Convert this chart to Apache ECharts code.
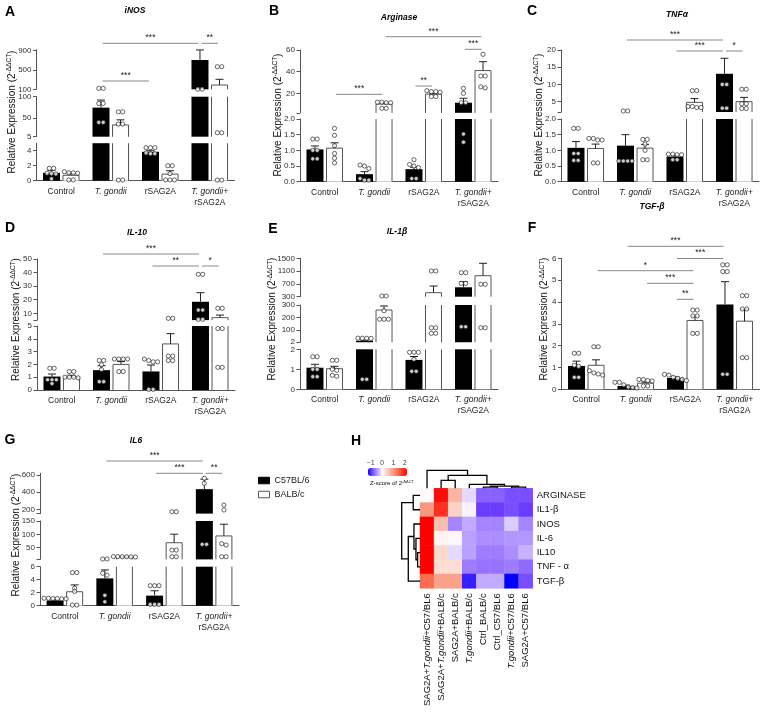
<!DOCTYPE html>
<html><head><meta charset="utf-8">
<script src="https://cdn.jsdelivr.net/npm/echarts@6/dist/echarts.min.js"></script>
<style>html,body{margin:0;padding:0;background:#fff}#c{width:765px;height:713px}</style>
</head><body><div id="c"></div>
<script>
// ---------------- DATA ----------------
const groups = ['Control', 'T. gondii', 'rSAG2A', 'T. gondii+\nrSAG2A'];
const strains = ['C57BL/6', 'BALB/c'];

// A  iNOS
const inosC57 = [1.05, 74, 3.85, 707];
const inosC57Sem = [0.35, 18, 0.15, 208];
const inosBALB = [0.72, 33, 0.88, 189];
const inosBALBSem = [0.25, 12, 0.45, 118];
const inosC57Pts = [[1.65, 1.65, 1.0, 0.95, 0.9, 0.25], [120, 120, 84, 84, 39, 39], [4.4, 4.4, 4.4, 3.7, 3.6, 3.6], [102, 102]];
const inosBALBPts = [[1.2, 1.05, 1.05, 1.0, 0.1, 0.1], [64, 64, 35, 35, 0.08, 0.08], [2.0, 2.0, 0.95, 0.1, 0.1, 0.1], [568, 568, 14.5, 14.5, 0.08, 0.08]];

// B  Arginase
const argC57 = [1.03, 0.24, 0.40, 11.3];
const argC57Sem = [0.11, 0.08, 0.06, 4.1];
const argBALB = [1.07, 10.1, 19.2, 41];
const argBALBSem = [0.17, 0.9, 0.8, 8.2];
const argC57Pts = [[1.36, 1.36, 1.0, 1.0, 0.73, 0.73], [0.53, 0.5, 0.42, 0.1, 0.05, 0.05], [0.7, 0.55, 0.5, 0.45, 0.1, 0.1], [24.6, 20, 11.3, 11.3, 1.52, 1.26]];
const argBALBPts = [[1.7, 1.48, 1.15, 0.9, 0.75, 0.6], [11.8, 11.3, 11.3, 11.8, 6.1, 6.1], [22.4, 21.5, 21.5, 21, 17, 17], [56, 36, 36, 26, 25]];

// C  TNF-alpha
const tnfC57 = [1.08, 1.15, 0.80, 13.1];
const tnfC57Sem = [0.2, 0.35, 0.03, 4.5];
const tnfBALB = [1.06, 1.07, 4.8, 5.0];
const tnfBALBSem = [0.14, 0.12, 1.1, 1.25];
const tnfC57Pts = [[1.7, 1.7, 0.9, 0.9, 0.68, 0.68], [2.3, 2.3, 0.66, 0.66, 0.66, 0.66], [0.88, 0.86, 0.86, 0.88, 0.7, 0.7], [10, 10, 3.1, 3.1]];
const tnfBALBPts = [[1.38, 1.33, 1.33, 1.38, 0.6, 0.6], [1.35, 1.35, 1.2, 1.0, 0.7, 0.7], [8.2, 8.2, 3.6, 3.3, 3.3, 3.6], [8.6, 8.6, 4.4, 4.4, 3.0, 3.0]];

// D  IL-10
const il10C57 = [1.05, 1.55, 1.45, 18.5];
const il10C57Sem = [0.2, 0.35, 0.5, 6.7];
const il10BALB = [1.0, 2.0, 3.6, 6.8];
const il10BALBSem = [0.15, 0.22, 0.8, 1.9];
const il10C57Pts = [[1.7, 1.7, 0.8, 0.8, 0.8, 0.5], [2.31, 2.31, 1.97, 1.6, 0.65, 0.65], [2.42, 2.3, 2.2, 2.2, 0.05, 0.05], [38.7, 38.7, 12.4, 12.4, 5.6, 5.6]];
const il10BALBPts = [[1.44, 1.44, 1.0, 1.0, 1.0, 0.95], [2.42, 2.42, 2.42, 2.42, 1.44, 1.44], [6.3, 6.3, 2.65, 2.65, 2.3, 2.3], [13.7, 13.7, 4.8, 4.8, 1.77, 1.77]];

// E  IL-1beta
const il1C57 = [1.08, 14, 1.47, 594];
const il1C57Sem = [0.17, 4, 0.17, 176];
const il1BALB = [1.03, 260, 425, 956];
const il1BALBSem = [0.12, 32, 209, 388];
const il1C57Pts = [[1.63, 1.63, 1.0, 1.0, 0.63, 0.63], [35, 34, 34, 33, 0.5, 0.5], [1.85, 1.85, 1.85, 1.5, 0.9, 0.9], [1050, 1050, 718, 718, 126, 126]];
const il1BALBPts = [[1.45, 1.45, 1.0, 0.95, 0.7, 0.65], [322, 322, 254, 186, 186, 186], [1103, 1103, 118, 118, 73.5, 73.5], [688, 688, 118, 118]];

// F  TGF-beta
const tgfC57 = [1.07, 0.15, 0.52, 3.88];
const tgfC57Sem = [0.22, 0.04, 0.05, 1.05];
const tgfBALB = [1.10, 0.28, 3.15, 3.12];
const tgfBALBSem = [0.25, 0.05, 0.2, 0.55];
const tgfC57Pts = [[1.65, 1.65, 1.1, 1.05, 0.55, 0.55], [0.32, 0.32, 0.2, 0.1, 0.08, 0.06], [0.68, 0.65, 0.55, 0.5, 0.45, 0.4], [5.7, 5.7, 5.39, 5.39, 0.69, 0.69]];
const tgfBALBPts = [[1.95, 1.95, 0.85, 0.75, 0.7, 0.65], [0.45, 0.45, 0.4, 0.38, 0.15, 0.15], [3.63, 3.63, 3.36, 3.36, 2.56, 2.56], [4.29, 4.29, 3.68, 3.68, 1.45, 1.45]];

// G  IL6
const il6C57 = [0.8, 4.2, 1.55, 435];
const il6C57Sem = [0.06, 1.3, 0.75, 116];
const il6BALB = [2.15, 15, 68.5, 94];
const il6BALBSem = [1.05, 0.6, 32, 44];
const il6C57Pts = [[1.15, 1.15, 1.1, 1.1, 1.05, 1.05], [7.5, 7.5, 5.0, 4.7, 1.6, 0.6], [3.08, 3.08, 3.08, 0.2, 0.2, 0.2], [561, 503, 62.5, 62.5]];
const il6BALBPts = [[5.1, 5.1, 2.7, 2.2, 0.1, 0.1], [16.5, 16.5, 16, 16, 15.5, 15], [172, 172, 41, 41, 16, 16], [250, 192, 65, 60, 16, 16]];

// H  heatmap (z-score)
const hmCols = ['SAG2A+T.gondii+C57/BL6', 'SAG2A+T.gondii+BALB/c', 'SAG2A+BALB/c', 'T.gondii+BALB/c', 'Ctrl_BALB/c', 'Ctrl_C57/BL6', 'T.gondii+C57/BL6', 'SAG2A+C57/BL6'];
const hmRows = ['ARGINASE', 'IL1-β', 'INOS', 'IL-6', 'IL10', 'TNF - α', 'TGF-β'];
const zArginase = [0.05, 2.1, 0.7, -0.15, -0.75, -0.75, -0.85, -0.85];
const zIL1b = [1.0, 1.85, 0.4, -0.05, -0.95, -0.95, -0.85, -0.95];
const zINOS = [2.2, 0.6, -0.55, -0.35, -0.55, -0.55, -0.2, -0.55];
const zIL6 = [2.2, 0.1, -0.03, -0.4, -0.5, -0.5, -0.45, -0.45];
const zIL10 = [2.2, 0.35, -0.15, -0.4, -0.6, -0.6, -0.5, -0.3];
const zTNF = [2.2, 0.3, 0.3, -0.6, -0.65, -0.65, -0.6, -0.7];
const zTGF = [1.4, 0.9, 0.9, -1.1, -0.35, -0.35, -1.25, -0.85];
// dendrograms (merge heights, relative)
const colTree = {h: 1.0, c: [0, {h: 0.72, c: [{h: 0.44, c: [1, 2]}, {h: 0.22, c: [3, {h: 0.12, c: [{h: 0.07, c: [4, 5]}, {h: 0.07, c: [6, 7]}]}]}]}]};
const rowTree = {h: 1.0, c: [{h: 0.37, c: [0, 1]}, {h: 0.64, c: [{h: 0.33, c: [2, {h: 0.22, c: [3, {h: 0.13, c: [4, 5]}]}]}, 6]}]};

// ---------------- LAYOUT / STYLE ----------------
const FONT = '"Liberation Sans", Arial, Helvetica, sans-serif';
const BW = 17, GAPR = 0.15, HALF = BW * (1 + GAPR) / 2;
const f1 = v => v.toFixed(1);

const panels = [
  {letter: 'A', title: 'iNOS', left: 36.5, width: 198, c57: inosC57, c57e: inosC57Sem, balb: inosBALB, balbe: inosBALBSem, c57p: inosC57Pts, balbp: inosBALBPts,
   segs: [{min: 0, max: 5, bottom: 180.7, top: 143.2, ticks: [0, 2, 4]}, {min: 5, max: 100, bottom: 136.7, top: 96.7, ticks: [5, 50, 100]}, {min: 100, max: 920, bottom: 89.3, top: 49.7, ticks: [100, 500, 900]}],
   letterPos: [10, 12.5], titlePos: [135, 11], yTitle: [12, 112],
   sig: [[1, 0, 3, 0, 43.3, '***'], [3, 0, 3, 1, 43.3, '**'], [1, 0, 2, 0, 81, '***']]},
  {letter: 'B', title: 'Arginase', left: 300, width: 198, c57: argC57, c57e: argC57Sem, balb: argBALB, balbe: argBALBSem, c57p: argC57Pts, balbp: argBALBPts,
   segs: [{min: 0, max: 2, bottom: 181.7, top: 119, ticks: [0, 0.5, 1, 1.5, 2], fmt: f1}, {min: 2, max: 60, bottom: 112.8, top: 50, ticks: [20, 40, 60], tickVals: [2, 20, 40, 60]}],
   letterPos: [274, 11], titlePos: [399, 18], yTitle: [278, 115],
   sig: [[0, 1, 1, 1, 94.3, '***'], [1, 1, 3, 1, 36.7, '***'], [2, 0, 2, 1, 86, '**'], [3, 0, 3, 1, 49.3, '***']]},
  {letter: 'C', title: 'TNFα', left: 561, width: 198, c57: tnfC57, c57e: tnfC57Sem, balb: tnfBALB, balbe: tnfBALBSem, c57p: tnfC57Pts, balbp: tnfBALBPts,
   segs: [{min: 0, max: 2, bottom: 181.7, top: 119, ticks: [0, 0.5, 1, 1.5, 2], fmt: f1}, {min: 2, max: 20, bottom: 112, top: 50, ticks: [5, 10, 15, 20], tickVals: [2, 5, 10, 15, 20]}],
   letterPos: [532, 11], titlePos: [677, 15], yTitle: [539, 115],
   sig: [[1, 0, 3, 0, 40, '***'], [2, 0, 3, 0, 51, '***'], [3, 0, 3, 1, 51, '*']]},
  {letter: 'D', title: 'IL-10', left: 37, width: 198, c57: il10C57, c57e: il10C57Sem, balb: il10BALB, balbe: il10BALBSem, c57p: il10C57Pts, balbp: il10BALBPts,
   segs: [{min: 0, max: 5, bottom: 390, top: 326, ticks: [0, 1, 2, 3, 4, 5]}, {min: 5, max: 50, bottom: 320.1, top: 259, ticks: [10, 20, 30, 40, 50], tickVals: [5, 10, 20, 30, 40, 50]}],
   letterPos: [10, 228], titlePos: [137, 233], yTitle: [16, 319.5],
   sig: [[1, 0, 3, 0, 254, '***'], [2, 0, 3, 0, 266, '**'], [3, 0, 3, 1, 266, '*']]},
  {letter: 'E', title: 'IL-1β', left: 300, width: 198, c57: il1C57, c57e: il1C57Sem, balb: il1BALB, balbe: il1BALBSem, c57p: il1C57Pts, balbp: il1BALBPts,
   segs: [{min: 0, max: 2, bottom: 389.3, top: 349.3, ticks: [0, 1, 2]}, {min: 2, max: 300, bottom: 342.25, top: 305, ticks: [2, 100, 200, 300]}, {min: 300, max: 1500, bottom: 296.7, top: 258.3, ticks: [300, 700, 1100, 1500]}],
   letterPos: [273, 229], titlePos: [397, 232], yTitle: [272.5, 319], sig: []},
  {letter: 'F', title: 'TGF-β', left: 561.5, width: 198, c57: tgfC57, c57e: tgfC57Sem, balb: tgfBALB, balbe: tgfBALBSem, c57p: tgfC57Pts, balbp: tgfBALBPts,
   segs: [{min: 0, max: 6, bottom: 389.3, top: 258.3, ticks: [0, 1, 2, 3, 4, 5, 6]}],
   letterPos: [532, 228], titlePos: [652, 207], yTitle: [544.5, 319],
   sig: [[1, 0, 3, 0, 246.3, '***'], [2, 0, 3, 0, 258.5, '***'], [0, 1, 2, 1, 270.7, '*'], [1, 1, 2, 1, 283.3, '***'], [2, 0, 2, 1, 299.3, '**']]},
  {letter: 'G', title: 'IL6', left: 40, width: 199, c57: il6C57, c57e: il6C57Sem, balb: il6BALB, balbe: il6BALBSem, c57p: il6C57Pts, balbp: il6BALBPts,
   segs: [{min: 0, max: 6, bottom: 605.7, top: 566.7, ticks: [0, 2, 4, 6]}, {min: 6, max: 150, bottom: 559.4, top: 521, ticks: [50, 100, 150], tickVals: [6, 50, 100, 150]}, {min: 150, max: 620, bottom: 513.6, top: 473.3, ticks: [200, 400, 600], tickVals: [150, 200, 400, 600]}],
   letterPos: [10, 440], titlePos: [136, 441], yTitle: [16, 535],
   sig: [[1, 0, 3, 0, 461, '***'], [2, 0, 3, 0, 473.3, '***'], [3, 0, 3, 1, 473.3, '**']]}
];

const grid = [], xAxis = [], yAxis = [], series = [], gfx = [];

function segPx(seg, v) { return seg.bottom - (v - seg.min) / (seg.max - seg.min) * (seg.bottom - seg.top); }
function segOf(segs, v) {
  for (let k = 0; k < segs.length; k++) {
    const s = segs[k];
    if ((k === 0 ? v >= s.min : v > s.min) && v <= s.max) return k;
  }
  return -1;
}
function grpFmt(s) { return s.split('\n').map(l => l.indexOf('T. gondii') >= 0 ? '{i|' + l + '}' : '{n|' + l + '}').join('\n'); }
function hmFmt(s) { return s.split('T.gondii').map(p => p ? '{n|' + p + '}' : '').join('{i|T.gondii}'); }

function pointItems(segs, pts, side) {
  const perSeg = segs.map(() => []);
  pts.forEach((arr, g) => {
    const items = arr.map(v => ({v: v, k: segOf(segs, v)})).filter(o => o.k >= 0);
    items.forEach(o => { o.y = segPx(segs[o.k], o.v); });
    items.sort((a, b) => a.y - b.y);
    const clusters = [];
    items.forEach(o => {
      const last = clusters[clusters.length - 1];
      if (last && last[0].k === o.k && Math.abs(o.y - last[last.length - 1].y) < 3.2) last.push(o); else clusters.push([o]);
    });
    clusters.forEach(cl => cl.forEach((o, j) => {
      const dx = (side ? HALF : -HALF) + (j - (cl.length - 1) / 2) * 4.4;
      perSeg[o.k].push({value: [g, o.v], symbolOffset: [dx, 0]});
    }));
  });
  return perSeg;
}

function errRender(seg) {
  return function (params, api) {
    const g = api.value(0), side = api.value(1), mean = api.value(2), sem = api.value(3);
    const p0 = api.coord([g, seg.min]);
    const cx = p0[0] + (side ? HALF : -HALF);
    const yb = p0[1];
    const Y = v => api.coord([g, v])[1];
    const kids = [];
    const st = {stroke: '#555', lineWidth: 1, fill: 'none'};
    if (side === 1 && mean > seg.min) {
      const xl = cx - BW / 2 + 0.5, xr = cx + BW / 2 - 0.5;
      if (mean <= seg.max) {
        const yt = Y(mean);
        kids.push({type: 'polyline', shape: {points: [[xl, yb], [xl, yt], [xr, yt], [xr, yb]]}, style: st});
      } else {
        const yt = Y(seg.max);
        kids.push({type: 'line', shape: {x1: xl, y1: yb, x2: xl, y2: yt}, style: st});
        kids.push({type: 'line', shape: {x1: xr, y1: yb, x2: xr, y2: yt}, style: st});
      }
    }
    const hi = Math.min(mean + sem, seg.max), lo = Math.max(mean, seg.min);
    if (hi > lo) {
      const es = {stroke: '#222', lineWidth: 1};
      kids.push({type: 'line', shape: {x1: cx, y1: Y(lo), x2: cx, y2: Y(hi)}, style: es});
      if (mean + sem <= seg.max) kids.push({type: 'line', shape: {x1: cx - 4, y1: Y(hi), x2: cx + 4, y2: Y(hi)}, style: es});
    }
    return {type: 'group', children: kids};
  };
}

function txt(x, y, text, opt) {
  opt = opt || {};
  return {type: 'text', x: x, y: y, rotation: opt.rot || 0, silent: true, z: 10,
    style: Object.assign({text: text, fontFamily: FONT, fontSize: opt.size || 9, fontWeight: opt.weight || 'normal',
      fontStyle: opt.style || 'normal', fill: opt.color || '#111',
      align: opt.align || 'center', textAlign: opt.align || 'center', verticalAlign: 'middle', textVerticalAlign: 'middle'}, opt.rich ? {rich: opt.rich} : {})};
}

panels.forEach(P => {
  const c57Pts = pointItems(P.segs, P.c57p, 0);
  const balbPts = pointItems(P.segs, P.balbp, 1);
  const errData = [];
  for (let g = 0; g < 4; g++) { errData.push([g, 0, P.c57[g], P.c57e[g]]); errData.push([g, 1, P.balb[g], P.balbe[g]]); }
  P.segs.forEach((seg, k) => {
    const gi = grid.length;
    grid.push({left: P.left, width: P.width, top: seg.top, height: seg.bottom - seg.top, outerBoundsMode: 'none', containLabel: false});
    xAxis.push({type: 'category', gridIndex: gi, data: groups,
      axisLine: {show: k === 0, lineStyle: {color: '#555', width: 1}}, axisTick: {show: false},
      axisLabel: {show: k === 0, interval: 0, margin: 5, formatter: grpFmt, color: '#222',
        rich: {n: {fontFamily: FONT, fontSize: 8.5, lineHeight: 11, color: '#222'}, i: {fontFamily: FONT, fontSize: 8.5, lineHeight: 11, fontStyle: 'italic', color: '#222'}}},
      splitLine: {show: false}});
    yAxis.push({type: 'value', gridIndex: gi, min: seg.min, max: seg.max,
      axisLine: {show: true, lineStyle: {color: '#555', width: 1}},
      axisTick: {show: true, length: 3.5, customValues: seg.tickVals || seg.ticks, lineStyle: {color: '#555'}},
      axisLabel: {customValues: seg.ticks, fontSize: 8, margin: 5, color: '#333', fontFamily: FONT, formatter: seg.fmt || (v => String(v))},
      splitLine: {show: false}});
    series.push({type: 'bar', name: strains[0], xAxisIndex: gi, yAxisIndex: gi, data: P.c57, barWidth: BW, barGap: (GAPR * 100) + '%',
      itemStyle: {color: '#000'}, clip: true, silent: true, z: 2});
    series.push({type: 'bar', name: strains[1], xAxisIndex: gi, yAxisIndex: gi, data: P.balb, barWidth: BW, barGap: (GAPR * 100) + '%',
      itemStyle: {color: '#fff'}, clip: true, silent: true, z: 2});
    series.push({type: 'custom', xAxisIndex: gi, yAxisIndex: gi, data: errData, encode: {x: 0, y: 2}, renderItem: errRender(seg), silent: true, z: 3});
    series.push({type: 'scatter', xAxisIndex: gi, yAxisIndex: gi, data: c57Pts[k].concat(balbPts[k]), symbol: 'circle', symbolSize: 4.2,
      itemStyle: {color: '#fff', borderColor: '#111', borderWidth: 0.8}, clip: true, silent: true, z: 4});
  });
  // text & annotations
  gfx.push(txt(P.letterPos[0], P.letterPos[1], P.letter, {size: 14, weight: 'bold', color: '#000'}));
  gfx.push(txt(P.titlePos[0], P.titlePos[1], P.title, {size: 8.5, weight: 'bold', style: 'italic', color: '#000'}));
  gfx.push(txt(P.yTitle[0], P.yTitle[1], '{a|Relative Expression (2}{s|-ΔΔCT}{a|)}', {rot: Math.PI / 2,
    rich: {a: {fontFamily: FONT, fontSize: 10, color: '#222', lineHeight: 12}, s: {fontFamily: FONT, fontSize: 6.5, color: '#222', verticalAlign: 'top', lineHeight: 12}}}));
  const catW = P.width / 4;
  const bx = (g, side) => P.left + (g + 0.5) * catW + (side ? HALF : -HALF);
  P.sig.forEach(s => {
    const x1 = bx(s[0], s[1]) + 1.5, x2 = bx(s[2], s[3]) - 1.5;
    gfx.push({type: 'line', silent: true, z: 10, shape: {x1: x1, y1: s[4], x2: x2, y2: s[4]}, style: {stroke: '#888', lineWidth: 1}});
    gfx.push(txt((x1 + x2) / 2, s[4] - 5.5, s[5], {size: 8.5, color: '#222'}));
  });
});

// ---------- Heatmap H ----------
const HM = {left: 420, top: 488.3, width: 112.7, height: 100};
const hmGi = grid.length;
grid.push({left: HM.left, top: HM.top, width: HM.width, height: HM.height, outerBoundsMode: 'none', containLabel: false});
xAxis.push({type: 'category', gridIndex: hmGi, data: hmCols, axisLine: {show: false}, axisTick: {show: false}, splitLine: {show: false},
  axisLabel: {interval: 0, rotate: 90, margin: 5, formatter: hmFmt,
    rich: {n: {fontFamily: FONT, fontSize: 9.5, color: '#111'}, i: {fontFamily: FONT, fontSize: 9.5, fontStyle: 'italic', color: '#111'}}}});
yAxis.push({type: 'category', gridIndex: hmGi, data: hmRows, inverse: true, position: 'right', axisLine: {show: false}, axisTick: {show: false}, splitLine: {show: false},
  axisLabel: {interval: 0, margin: 4, fontFamily: FONT, fontSize: 9.5, color: '#111'}});
const zRows = [zArginase, zIL1b, zINOS, zIL6, zIL10, zTNF, zTGF];
const hmData = [];
zRows.forEach((row, r) => row.forEach((z, c) => hmData.push([c, r, z])));
const hmSeriesIndex = series.length;
series.push({type: 'heatmap', xAxisIndex: hmGi, yAxisIndex: hmGi, data: hmData, itemStyle: {borderWidth: 0}, silent: true, emphasis: {disabled: true}, progressive: 0});

// colour ramp (style)
const ZMIN = -1.25, ZMAX = 2.2;
const ramp = [[-1.25, [0, 0, 255]], [-0.95, [106, 60, 255]], [-0.55, [165, 133, 255]], [-0.3, [201, 179, 255]], [0, [255, 255, 255]], [0.4, [252, 210, 198]], [1.0, [248, 152, 127]], [1.5, [247, 98, 70]], [2.2, [255, 0, 0]]];
function rampColor(z) {
  for (let i = 0; i < ramp.length - 1; i++) {
    const a = ramp[i], b = ramp[i + 1];
    if (z <= b[0] || i === ramp.length - 2) {
      const t = Math.max(0, Math.min(1, (z - a[0]) / (b[0] - a[0])));
      const c = a[1].map((v, j) => Math.round(v + (b[1][j] - v) * t));
      return 'rgb(' + c.join(',') + ')';
    }
  }
}
const stops = [];
for (let i = 0; i <= 69; i++) stops.push(rampColor(ZMIN + (ZMAX - ZMIN) * i / 69));

const CB = {left: 368, top: 468, len: 39, thick: 8};
[-1, 0, 1, 2].forEach(v => gfx.push(txt(CB.left + (v - ZMIN) / (ZMAX - ZMIN) * CB.len, 463.5, String(v === -1 ? '−1' : v), {size: 6.5, color: '#333'})));
gfx.push(txt(370, 483.5, '{a|Z-score of 2}{s|-ΔΔCT}', {align: 'left', rich: {a: {fontFamily: FONT, fontSize: 6, color: '#333', lineHeight: 8}, s: {fontFamily: FONT, fontSize: 4, color: '#333', verticalAlign: 'top', lineHeight: 8}}}));
gfx.push(txt(356, 441, 'H', {size: 14, weight: 'bold', color: '#000'}));

// dendrograms
function dendro(tree, leafPos, toXY) {
  const out = [];
  (function walk(node) {
    if (typeof node === 'number') return {pos: leafPos(node), h: 0};
    const a = walk(node.c[0]), b = walk(node.c[1]);
    out.push([toXY(a.pos, a.h), toXY(a.pos, node.h), toXY(b.pos, node.h), toXY(b.pos, b.h)]);
    return {pos: (a.pos + b.pos) / 2, h: node.h};
  })(tree);
  return out;
}
const cw = HM.width / hmCols.length, rh = HM.height / hmRows.length;
dendro(colTree, i => HM.left + (i + 0.5) * cw, (p, h) => [p, HM.top - h * 18]).forEach(pts =>
  gfx.push({type: 'polyline', silent: true, z: 10, shape: {points: pts}, style: {stroke: '#000', lineWidth: 1.3, fill: 'none'}}));
dendro(rowTree, i => HM.top + (i + 0.5) * rh, (p, h) => [HM.left - h * 18.3, p]).forEach(pts =>
  gfx.push({type: 'polyline', silent: true, z: 10, shape: {points: pts}, style: {stroke: '#000', lineWidth: 1.3, fill: 'none'}}));

const option = {
  animation: false,
  backgroundColor: '#fff',
  grid: grid, xAxis: xAxis, yAxis: yAxis, series: series,
  legend: {left: 258, top: 476, orient: 'vertical', padding: 0, itemWidth: 11, itemHeight: 6.5, itemGap: 5, selectedMode: false, icon: 'rect',
    textStyle: {fontFamily: FONT, fontSize: 9, color: '#222'},
    data: [{name: strains[0], itemStyle: {color: '#000', borderColor: '#000', borderWidth: 1}}, {name: strains[1], itemStyle: {color: '#fff', borderColor: '#555', borderWidth: 1}}]},
  visualMap: {type: 'continuous', min: ZMIN, max: ZMAX, seriesIndex: hmSeriesIndex, orient: 'horizontal', left: CB.left, top: CB.top,
    itemWidth: CB.thick, itemHeight: CB.len, calculable: false, hoverLink: false, padding: 0, inRange: {color: stops}},
  graphic: {elements: gfx}
};
const chart = echarts.init(document.getElementById('c'), null, {width: 765, height: 713});
chart.setOption(option);
</script>
</body></html>
